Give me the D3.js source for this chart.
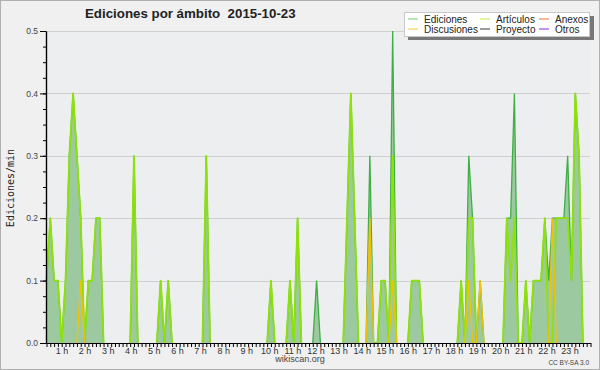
<!DOCTYPE html>
<html>
<head>
<meta charset="utf-8">
<script src="https://cdn.jsdelivr.net/npm/d3@7"></script>
<style>
  html, body { margin: 0; padding: 0; background: #f0f0f0; }
  svg { display: block; }
</style>
</head>
<body>
<div id="chart"></div>
<script>
// edits per minute, 10-minute bins (0:00 .. 23:50)
const ediciones = [
  0.1, 0.2, 0.1, 0.1, 0, 0.1, 0.3, 0.4, 0.3, 0.2, 0, 0.1, 0.1, 0.2, 0.2, 0, 0, 0, 0, 0, 0, 0, 0, 0.3,
  0, 0, 0, 0, 0, 0, 0.1, 0, 0.1, 0, 0, 0, 0, 0, 0, 0, 0, 0, 0.3, 0, 0, 0, 0, 0,
  0, 0, 0, 0, 0, 0, 0, 0, 0, 0, 0, 0.1, 0, 0, 0, 0, 0.1, 0, 0.2, 0, 0, 0, 0, 0.1,
  0, 0, 0, 0, 0, 0, 0, 0.2, 0.4, 0.2, 0, 0, 0, 0.3, 0, 0, 0.1, 0.1, 0, 0.5, 0, 0, 0, 0,
  0.1, 0.1, 0.1, 0, 0, 0, 0, 0, 0, 0, 0, 0, 0, 0.1, 0, 0.3, 0.2, 0, 0.1, 0, 0, 0, 0, 0,
  0, 0.2, 0.2, 0.4, 0, 0, 0.1, 0, 0.1, 0.1, 0.1, 0.2, 0.1, 0.2, 0.2, 0.2, 0.2, 0.3, 0.1, 0.4, 0.3, 0, 0, 0
];
const articulos = [
  0.1, 0.2, 0.1, 0.1, 0, 0.1, 0.3, 0.4, 0.3, 0.2, 0, 0.1, 0.1, 0.2, 0.2, 0, 0, 0, 0, 0, 0, 0, 0, 0.3,
  0, 0, 0, 0, 0, 0, 0.1, 0, 0.1, 0, 0, 0, 0, 0, 0, 0, 0, 0, 0.3, 0, 0, 0, 0, 0,
  0, 0, 0, 0, 0, 0, 0, 0, 0, 0, 0, 0.1, 0, 0, 0, 0, 0.1, 0, 0.2, 0, 0, 0, 0, 0,
  0, 0, 0, 0, 0, 0, 0, 0.2, 0.4, 0.2, 0, 0, 0, 0, 0, 0, 0.1, 0.1, 0, 0.3, 0, 0, 0, 0,
  0.1, 0.1, 0.1, 0, 0, 0, 0, 0, 0, 0, 0, 0, 0, 0.1, 0, 0.2, 0.2, 0, 0, 0, 0, 0, 0, 0,
  0, 0.2, 0.1, 0.2, 0, 0, 0.1, 0, 0.1, 0.1, 0.1, 0.2, 0, 0, 0.2, 0.2, 0.2, 0.2, 0.1, 0.4, 0.3, 0, 0, 0
];
const discusiones = [
  0, 0, 0, 0, 0, 0, 0, 0, 0, 0.1, 0, 0, 0, 0, 0, 0, 0, 0, 0, 0, 0, 0, 0, 0,
  0, 0, 0, 0, 0, 0, 0, 0, 0, 0, 0, 0, 0, 0, 0, 0, 0, 0, 0, 0, 0, 0, 0, 0,
  0, 0, 0, 0, 0, 0, 0, 0, 0, 0, 0, 0, 0, 0, 0, 0, 0, 0, 0, 0, 0, 0, 0, 0,
  0, 0, 0, 0, 0, 0, 0, 0, 0, 0, 0, 0, 0, 0.2, 0, 0, 0, 0, 0, 0.1, 0, 0, 0, 0,
  0, 0, 0, 0, 0, 0, 0, 0, 0, 0, 0, 0, 0, 0, 0, 0.1, 0, 0, 0.1, 0, 0, 0, 0, 0,
  0, 0, 0, 0, 0, 0, 0, 0, 0, 0, 0, 0, 0, 0.2, 0, 0, 0, 0, 0, 0, 0, 0, 0, 0
];
const hourLabels = d3.range(1, 24).map(h => h + ' h');
const yTicks = [0, 0.1, 0.2, 0.3, 0.4, 0.5];
const legendItems = [
  { label: 'Ediciones', color: '#86d486' },
  { label: 'Artículos', color: '#cdf25a' },
  { label: 'Anexos', color: '#f5845c' },
  { label: 'Discusiones', color: '#f7d25a' },
  { label: 'Proyecto', color: '#5a5a5a' },
  { label: 'Otros', color: '#9a4ef0' }
];

const width = 600, height = 370;
const plot = { left: 46, right: 590, top: 31, bottom: 343 };

const svg = d3.select('#chart')
  .append('svg')
  .attr('width', width)
  .attr('height', height);

// outer frame
svg.append('rect')
  .attr('x', 0.5).attr('y', 0.5)
  .attr('width', width - 1).attr('height', height - 1)
  .attr('fill', '#f0f0f0')
  .attr('stroke', '#b0b0b0');

svg.append('rect')
  .attr('x', plot.left).attr('y', plot.top)
  .attr('width', plot.right - plot.left).attr('height', plot.bottom - plot.top)
  .attr('fill', '#eceef0');

const x = d3.scaleLinear()
  .domain([0, ediciones.length - 1])
  .range([46.5, 590.5]);

const y = d3.scaleLinear()
  .domain([0, 0.5])
  .range([plot.bottom, plot.top]);

// grid
svg.append('g')
  .selectAll('line')
  .data(yTicks.slice(1))
  .join('line')
  .attr('x1', plot.left).attr('x2', plot.right)
  .attr('y1', d => Math.round(y(d)) + 0.5)
  .attr('y2', d => Math.round(y(d)) + 0.5)
  .attr('stroke', '#cfcfcf');

// filled total
const area = d3.area()
  .x((d, i) => x(i))
  .y0(y(0))
  .y1(d => y(d));

svg.append('path')
  .datum(ediciones)
  .attr('d', area)
  .attr('fill', '#9dc9a0');

// only draw line segments next to non-zero values
function lineFor(values) {
  return d3.line()
    .defined((d, i) => d > 0 || values[i - 1] > 0 || values[i + 1] > 0)
    .x((d, i) => x(i))
    .y(d => y(d));
}

svg.append('path')
  .datum(ediciones)
  .attr('d', lineFor(ediciones))
  .attr('fill', 'none')
  .attr('stroke', '#3fae44')
  .attr('stroke-width', 1.3);

svg.append('path')
  .datum(articulos)
  .attr('d', lineFor(articulos))
  .attr('fill', 'none')
  .attr('stroke', '#8ee20a')
  .attr('stroke-width', 1.8)
  .attr('stroke-linejoin', 'round');

svg.append('path')
  .datum(discusiones)
  .attr('d', lineFor(discusiones))
  .attr('fill', 'none')
  .attr('stroke', '#f2c200')
  .attr('stroke-width', 1.4);

// axes
const yAxis = svg.append('g')
  .attr('transform', `translate(${plot.left},0)`)
  .call(d3.axisLeft(y)
    .tickValues(yTicks)
    .tickFormat(d3.format('.1f'))
    .tickSize(6)
    .tickSizeOuter(0)
    .tickPadding(2));

svg.append('g')
  .attr('transform', `translate(${plot.left},0)`)
  .call(d3.axisLeft(y)
    .tickValues(d3.range(0, 0.5, 0.025))
    .tickFormat('')
    .tickSize(3)
    .tickSizeOuter(0));

const xAxis = svg.append('g')
  .attr('transform', `translate(0,${plot.bottom})`)
  .call(d3.axisBottom(x)
    .tickValues(d3.range(ediciones.length))
    .tickFormat('')
    .tickSize(4)
    .tickSizeOuter(0));

svg.selectAll('.domain').attr('stroke', '#000').attr('stroke-width', 1.2);
svg.selectAll('.tick line').attr('stroke', '#000');
yAxis.selectAll('text')
  .attr('font-family', 'Liberation Sans, sans-serif')
  .attr('font-size', 8.5)
  .attr('fill', '#444');

// hour labels
const hourX = d3.scaleLinear().domain([1, 23]).range([62, 570]);
svg.append('g')
  .selectAll('text')
  .data(hourLabels)
  .join('text')
  .attr('x', (d, i) => hourX(i + 1))
  .attr('y', 353.5)
  .attr('text-anchor', 'middle')
  .attr('font-family', 'Liberation Sans, sans-serif')
  .attr('font-size', 9)
  .attr('fill', '#333')
  .text(d => d);

// titles
svg.append('text')
  .attr('x', 85).attr('y', 18)
  .attr('font-family', 'Liberation Sans, sans-serif')
  .attr('font-weight', 'bold')
  .attr('font-size', 13.3)
  .attr('fill', '#222')
  .style('white-space', 'pre')
  .text('Ediciones por ámbito  2015-10-23');

svg.append('text')
  .attr('transform', 'rotate(-90)')
  .attr('x', -188).attr('y', 14)
  .attr('text-anchor', 'middle')
  .attr('font-family', 'DejaVu Sans Mono, monospace')
  .attr('font-size', 10)
  .attr('fill', '#222')
  .text('Ediciones/min');

svg.append('text')
  .attr('x', 300).attr('y', 362)
  .attr('text-anchor', 'middle')
  .attr('font-family', 'Liberation Sans, sans-serif')
  .attr('font-size', 9)
  .attr('fill', '#444')
  .text('wikiscan.org');

svg.append('text')
  .attr('x', 589).attr('y', 365)
  .attr('text-anchor', 'end')
  .attr('font-family', 'Liberation Sans, sans-serif')
  .attr('font-size', 6.5)
  .attr('fill', '#444')
  .text('CC BY-SA 3.0');

// legend
const legend = svg.append('g');
legend.append('rect')
  .attr('x', 408).attr('y', 16).attr('width', 186).attr('height', 24)
  .attr('fill', '#777');
legend.append('rect')
  .attr('x', 404.5).attr('y', 12.5).attr('width', 185).attr('height', 24)
  .attr('fill', '#fff').attr('stroke', '#c8c8c8');

const colX = [408, 480, 539];
const rowY = [19, 29];
const item = legend.selectAll('g.item')
  .data(legendItems)
  .join('g')
  .attr('class', 'item')
  .attr('transform', (d, i) => `translate(${colX[i % 3]},${rowY[Math.floor(i / 3)]})`);
item.append('line')
  .attr('x1', 0).attr('x2', 10)
  .attr('stroke', d => d.color)
  .attr('stroke-width', 1.2);
item.append('text')
  .attr('x', 16).attr('y', 3.5)
  .attr('font-family', 'Liberation Sans, sans-serif')
  .attr('font-size', 10)
  .attr('fill', '#222')
  .text(d => d.label);
</script>
</body>
</html>
